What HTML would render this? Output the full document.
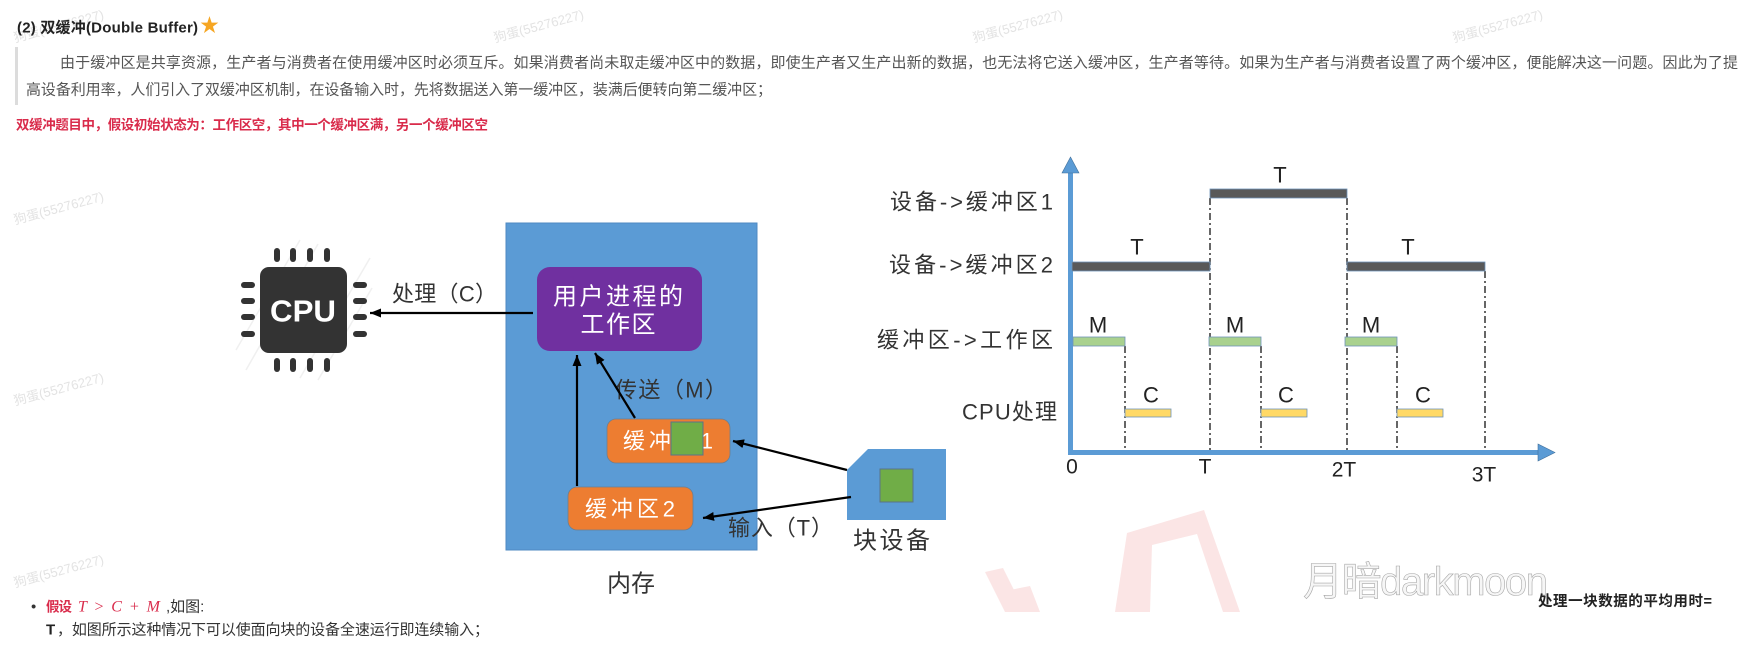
<!DOCTYPE html>
<html><head><meta charset="utf-8">
<style>
html,body{margin:0;padding:0;background:#fff;width:1760px;height:650px;overflow:hidden}
svg{display:block}
text{font-family:"Liberation Sans","Noto Sans CJK SC",sans-serif;dominant-baseline:central}
</style></head><body>
<svg width="1760" height="650" viewBox="0 0 1760 650" xmlns="http://www.w3.org/2000/svg">
<defs>
<marker id="ah" markerUnits="userSpaceOnUse" markerWidth="13" markerHeight="10" refX="11" refY="4.5" orient="auto">
<path d="M0,0 L11,4.5 L0,9 z" fill="#000"/>
</marker>
</defs>

<!-- watermarks -->
<g font-size="13" fill="#e3e3e3">
<text x="14" y="38" transform="rotate(-15 14 38)">狗蛋(55276227)</text>
<text x="494" y="38" transform="rotate(-15 494 38)">狗蛋(55276227)</text>
<text x="973" y="38" transform="rotate(-15 973 38)">狗蛋(55276227)</text>
<text x="1453" y="38" transform="rotate(-15 1453 38)">狗蛋(55276227)</text>
<text x="14" y="220" transform="rotate(-15 14 220)">狗蛋(55276227)</text>
<text x="14" y="401" transform="rotate(-15 14 401)">狗蛋(55276227)</text>
<text x="14" y="583" transform="rotate(-15 14 583)">狗蛋(55276227)</text>
</g>

<!-- header -->
<text x="17" y="28" font-size="15" font-weight="bold" fill="#222" textLength="181" lengthAdjust="spacing">(2) 双缓冲(Double Buffer)</text>
<text x="200" y="26" font-size="19" fill="#f6a623" font-family="DejaVu Sans">★</text>
<rect x="15" y="47" width="3" height="58" fill="#dcdcdc"/>
<text x="60" y="63" font-size="15" fill="#555" textLength="1678" lengthAdjust="spacing">由于缓冲区是共享资源，生产者与消费者在使用缓冲区时必须互斥。如果消费者尚未取走缓冲区中的数据，即使生产者又生产出新的数据，也无法将它送入缓冲区，生产者等待。如果为生产者与消费者设置了两个缓冲区，便能解决这一问题。因此为了提</text>
<text x="26" y="90" font-size="15" fill="#555" textLength="746" lengthAdjust="spacing">高设备利用率，人们引入了双缓冲区机制，在设备输入时，先将数据送入第一缓冲区，装满后便转向第二缓冲区；</text>
<text x="16" y="125" font-size="13.5" font-weight="bold" fill="#d92b4b" textLength="472" lengthAdjust="spacing">双缓冲题目中，假设初始状态为：工作区空，其中一个缓冲区满，另一个缓冲区空</text>

<!-- pink stamp fragments -->
<g fill="#fbe5e5">
<path fill-rule="evenodd" d="M1127,533 L1204,510 L1240,612 L1115,612 Z M1152,545 L1197,534 L1223,612 L1150,612 Z"/>
<path d="M985,572 L1003,568 L1025,612 L1005,612 Z"/>
<path d="M1010,590 L1030,586 L1040,612 L1018,612 Z"/>
</g>

<!-- CPU hatch -->
<g stroke="#f0f0f0" stroke-width="1.5">
<line x1="236" y1="350" x2="300" y2="240"/>
<line x1="246" y1="370" x2="318" y2="244"/>
<line x1="300" y1="378" x2="370" y2="258"/>
<line x1="318" y1="380" x2="372" y2="288"/>
</g>

<!-- CPU -->
<g fill="#333">
<rect x="274" y="248" width="6" height="14" rx="3"/>
<rect x="290" y="248" width="6" height="14" rx="3"/>
<rect x="307" y="248" width="6" height="14" rx="3"/>
<rect x="324" y="248" width="6" height="14" rx="3"/>
<rect x="274" y="358" width="6" height="14" rx="3"/>
<rect x="290" y="358" width="6" height="14" rx="3"/>
<rect x="307" y="358" width="6" height="14" rx="3"/>
<rect x="324" y="358" width="6" height="14" rx="3"/>
<rect x="241" y="282" width="14" height="6" rx="3"/>
<rect x="241" y="298" width="14" height="6" rx="3"/>
<rect x="241" y="314" width="14" height="6" rx="3"/>
<rect x="241" y="331" width="14" height="6" rx="3"/>
<rect x="353" y="282" width="14" height="6" rx="3"/>
<rect x="353" y="298" width="14" height="6" rx="3"/>
<rect x="353" y="314" width="14" height="6" rx="3"/>
<rect x="353" y="331" width="14" height="6" rx="3"/>
<rect x="260" y="267" width="87" height="86" rx="9"/>
</g>
<text x="303" y="311" font-size="31" font-weight="bold" fill="#fff" text-anchor="middle" textLength="66" lengthAdjust="spacingAndGlyphs">CPU</text>

<!-- memory -->
<rect x="506" y="223" width="251" height="327" fill="#5b9bd5" stroke="#4f8ac2" stroke-width="1"/>
<rect x="537" y="267" width="165" height="84" rx="13" fill="#7030a0"/>
<text x="618" y="297" font-size="24" fill="#fff" text-anchor="middle" textLength="130" lengthAdjust="spacing">用户进程的</text>
<text x="618" y="325" font-size="24" fill="#fff" text-anchor="middle" textLength="75" lengthAdjust="spacing">工作区</text>

<rect x="607" y="419" width="123" height="44" rx="9" fill="#ed7d31" stroke="#6b7f93" stroke-width="0.8"/>
<text x="623" y="441" font-size="22" fill="#fff" textLength="90" lengthAdjust="spacing">缓冲区1</text>
<rect x="671" y="422" width="32" height="33" fill="#70ad47" stroke="#5a7389" stroke-width="1"/>

<rect x="568" y="487" width="125" height="43" rx="9" fill="#ed7d31" stroke="#6b7f93" stroke-width="0.8"/>
<text x="585" y="509" font-size="22" fill="#fff" textLength="90" lengthAdjust="spacing">缓冲区2</text>

<!-- block device -->
<polygon points="868,449 946,449 946,520 847,520 847,470" fill="#5b9bd5"/>
<rect x="880" y="469" width="33" height="33" fill="#70ad47" stroke="#5a7389" stroke-width="1"/>

<!-- diagram labels -->
<g font-size="22" fill="#333">
<text x="392" y="294" textLength="105" lengthAdjust="spacing">处理（C）</text>
<text x="615" y="390" textLength="112" lengthAdjust="spacing">传送（M）</text>
<text x="728" y="528" textLength="105" lengthAdjust="spacing">输入（T）</text>
<text x="853" y="541" font-size="24" textLength="77" lengthAdjust="spacing">块设备</text>
<text x="607" y="584" font-size="24" textLength="48" lengthAdjust="spacing">内存</text>
</g>

<!-- arrows -->
<g stroke="#000" stroke-width="2.2" fill="none" marker-end="url(#ah)">
<line x1="533" y1="313" x2="370" y2="313"/>
<line x1="577" y1="486" x2="577" y2="355"/>
<line x1="635" y1="418" x2="595" y2="353"/>
<line x1="847" y1="470" x2="733" y2="441"/>
<line x1="851" y1="497" x2="703" y2="518"/>
</g>

<!-- timing chart axes -->
<rect x="1068" y="170" width="5" height="285" fill="#5b9bd5"/>
<polygon points="1070.5,157 1079,173 1062,173" fill="#5b9bd5" stroke="#41719c" stroke-width="0.6"/>
<rect x="1068" y="450" width="472" height="5" fill="#5b9bd5"/>
<polygon points="1555,452.5 1538,444 1538,461" fill="#5b9bd5" stroke="#41719c" stroke-width="0.6"/>

<!-- dashed guides -->
<g stroke="#333" stroke-width="1.5" stroke-dasharray="7 3 2 3" fill="none">
<line x1="1125" y1="346" x2="1125" y2="450"/>
<line x1="1210" y1="198" x2="1210" y2="450"/>
<line x1="1261" y1="346" x2="1261" y2="450"/>
<line x1="1347" y1="198" x2="1347" y2="450"/>
<line x1="1397" y1="346" x2="1397" y2="450"/>
<line x1="1485" y1="271" x2="1485" y2="450"/>
</g>

<!-- bars -->
<g stroke="#6f93ba" stroke-width="0.8">
<rect x="1210" y="189" width="137" height="9" fill="#595959"/>
<rect x="1072" y="262" width="138" height="9" fill="#595959"/>
<rect x="1347" y="262" width="138" height="9" fill="#595959"/>
<rect x="1073" y="337" width="52" height="9" fill="#a9d18e"/>
<rect x="1209" y="337" width="52" height="9" fill="#a9d18e"/>
<rect x="1345" y="337" width="52" height="9" fill="#a9d18e"/>
<rect x="1125" y="409" width="46" height="8" fill="#ffd966"/>
<rect x="1261" y="409" width="46" height="8" fill="#ffd966"/>
<rect x="1397" y="409" width="46" height="8" fill="#ffd966"/>
</g>

<!-- chart labels -->
<g font-size="22" fill="#222" text-anchor="middle">
<text x="1280" y="175">T</text>
<text x="1137" y="247">T</text>
<text x="1408" y="247">T</text>
<text x="1098" y="325">M</text>
<text x="1235" y="325">M</text>
<text x="1371" y="325">M</text>
<text x="1151" y="395">C</text>
<text x="1286" y="395">C</text>
<text x="1423" y="395">C</text>
<text x="1072" y="467" font-size="21">0</text>
<text x="1205" y="467" font-size="21">T</text>
<text x="1344" y="470" font-size="21">2T</text>
<text x="1484" y="475" font-size="21">3T</text>
</g>
<g font-size="22" fill="#333" text-anchor="end">
<text x="1053" y="202" textLength="163" lengthAdjust="spacing">设备-&gt;缓冲区1</text>
<text x="1053" y="265" textLength="164" lengthAdjust="spacing">设备-&gt;缓冲区2</text>
<text x="1053" y="340" textLength="176" lengthAdjust="spacing">缓冲区-&gt;工作区</text>
<text x="1057" y="412" textLength="95" lengthAdjust="spacing">CPU处理</text>
</g>

<!-- darkmoon watermark -->
<text x="1303" y="582" font-size="40" fill="#f6f6f6" stroke="#a8a8a8" stroke-width="0.6" textLength="245" lengthAdjust="spacing">月暗darkmoon</text>

<!-- bottom text -->
<text x="31" y="607" font-size="15" fill="#333">•</text>
<text x="46" y="607" font-size="13.5" font-weight="bold" fill="#d92b4b" textLength="26" lengthAdjust="spacing">假设</text>
<text x="78" y="607" font-size="16" font-style="italic" fill="#d92b4b" style="font-family:'Liberation Serif',serif" textLength="82" lengthAdjust="spacing">T &gt; C + M</text>
<text x="166" y="607" font-size="15" fill="#333">,如图:</text>
<text x="46" y="630" font-size="15" font-weight="bold" fill="#222">T</text>
<text x="57" y="630" font-size="15" fill="#333" textLength="432" lengthAdjust="spacing">，如图所示这种情况下可以使面向块的设备全速运行即连续输入；</text>
<text x="1538" y="602" font-size="14.5" font-weight="bold" fill="#222" textLength="174" lengthAdjust="spacing">处理一块数据的平均用时=</text>
</svg>
</body></html>
